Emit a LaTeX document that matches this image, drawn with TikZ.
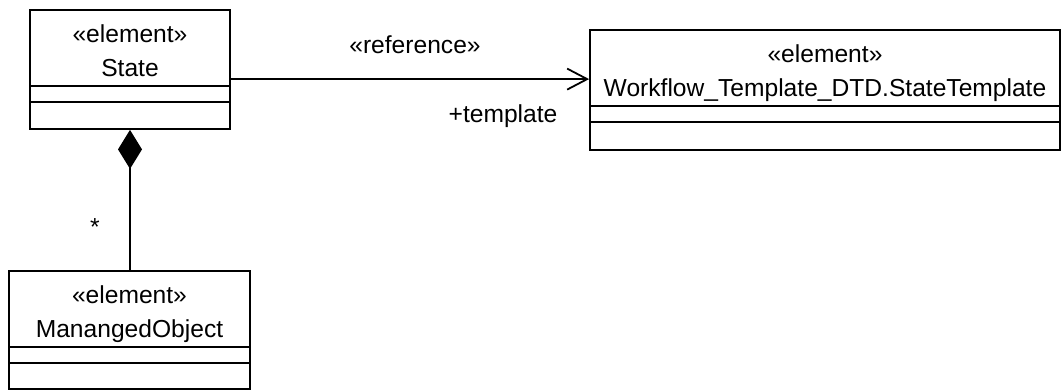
\documentclass[tikz,border=0pt]{standalone}
\usepackage{fontspec}
\setmainfont{Liberation Sans}
\usetikzlibrary{arrows.meta,calc}
\tikzset{
  umlbox/.style={draw=black, line width=1.8pt, fill=white, rectangle, inner sep=0pt},
  umltext/.style={font=\fontsize{24.6}{29}\selectfont, text=black, inner sep=0pt, anchor=base},
  umlline/.style={draw=black, line width=1.8pt},
}
% one UML class box: name, centre, width, height, class name
\newcommand{\umlclass}[5]{%
  \node[umlbox, minimum width=#3pt, minimum height=#4pt] (#1) at (#2) {};
  \draw[umlline] ($(#1.north west)+(0,76.5)$) -- ($(#1.north east)+(0,76.5)$);
  \draw[umlline] ($(#1.north west)+(0,92.5)$) -- ($(#1.north east)+(0,92.5)$);
  \node[umltext] (#1-st) at ($(#1.north)+(0,33)$) {«element»};
  \node[umltext] (#1-nm) at ($(#1.north)+(0,67)$) {#5};
}
\begin{document}
\begin{tikzpicture}[x=1pt, y=-1pt]
  \path[use as bounding box, fill=white] (0,0) rectangle (1062,391);

  \umlclass{state}{130,69.5}{200}{119}{State}
  \umlclass{tmpl}{825,90}{470}{120}{Workflow\_Template\_DTD.StateTemplate}
  \umlclass{mobj}{129.5,330}{241}{118}{ManangedObject}

  % directed association
  \coordinate (refstart) at ($(state.north east)+(0,70)$);
  \draw[umlline, -{Straight Barb[length=20pt, width=21pt]}]
    (refstart) -- (refstart -| tmpl.west);
  \node[umltext] (reflabel) at (415,53) {«reference»};
  \node[umltext] (rolelabel) at (503,122) {+template};

  % composition
  \draw[umlline, {Diamond[length=39pt, width=24pt]}-]
    (state.south) -- (state.south |- mobj.north);
  \node[umltext] (mult) at (95,235) {*};
\end{tikzpicture}
\end{document}
